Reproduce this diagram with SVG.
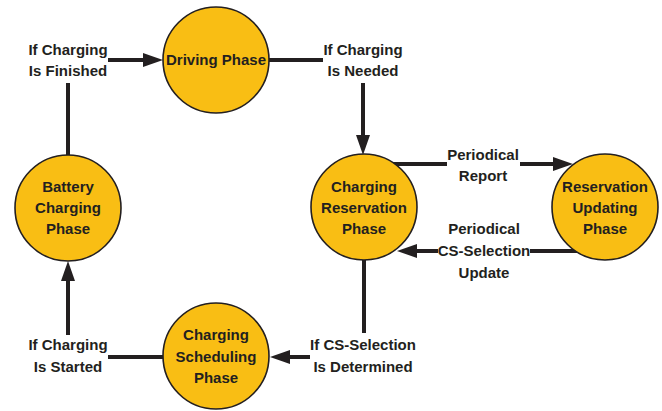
<svg xmlns="http://www.w3.org/2000/svg" width="662" height="411" viewBox="0 0 662 411">
<style>
.node circle{fill:#F9BE14;stroke:#231F20;stroke-width:1.6}
text{font-family:"Liberation Sans",Arial,sans-serif;font-weight:bold;font-size:15px;fill:#231F20;text-anchor:middle}
.conn path.l{fill:none;stroke:#231F20;stroke-width:4}
</style>
<defs>
<marker id="arr" markerUnits="userSpaceOnUse" markerWidth="20" markerHeight="14" refX="2" refY="7" orient="auto">
<path d="M0,0 L20,7 L0,14 z" fill="#231F20"/>
</marker>
</defs>
<rect width="662" height="411" fill="#fff"/>
<g id="connectors" class="conn">
<path class="l" d="M68,155 V83"/>
<path class="l" d="M108,60 H145" marker-end="url(#arr)"/>
<path class="l" d="M269,60 H323"/>
<path class="l" d="M363,83 V137" marker-end="url(#arr)"/>
<path class="l" d="M393,164 H447"/>
<path class="l" d="M520,164 H555" marker-end="url(#arr)"/>
<path class="l" d="M577,251 H530"/>
<path class="l" d="M438,251 H415" marker-end="url(#arr)"/>
<path class="l" d="M364,260 V333"/>
<path class="l" d="M310,357 H288" marker-end="url(#arr)"/>
<path class="l" d="M163,357 H108"/>
<path class="l" d="M68,335 V279" marker-end="url(#arr)"/>
</g>
<g id="labels">
<text x="68" y="55">If Charging</text>
<text x="68" y="76">Is Finished</text>
<text x="363" y="55">If Charging</text>
<text x="363" y="76">Is Needed</text>
<text x="483" y="160">Periodical</text>
<text x="483" y="181">Report</text>
<text x="484" y="234">Periodical</text>
<text x="484" y="256">CS-Selection</text>
<text x="484" y="278">Update</text>
<text x="363" y="350">If CS-Selection</text>
<text x="363" y="372">Is Determined</text>
<text x="68" y="350">If Charging</text>
<text x="68" y="372">Is Started</text>
</g>
<g id="driving" class="node">
<circle cx="216" cy="60" r="53"/>
<text x="216" y="65">Driving Phase</text>
</g>
<g id="reservation" class="node">
<circle cx="364" cy="207" r="53"/>
<text x="364" y="192">Charging</text>
<text x="364" y="213">Reservation</text>
<text x="364" y="234">Phase</text>
</g>
<g id="updating" class="node">
<circle cx="605" cy="207" r="53"/>
<text x="605" y="192">Reservation</text>
<text x="605" y="213">Updating</text>
<text x="605" y="234">Phase</text>
</g>
<g id="battery" class="node">
<circle cx="68" cy="208" r="53"/>
<text x="68" y="192">Battery</text>
<text x="68" y="213">Charging</text>
<text x="68" y="234">Phase</text>
</g>
<g id="scheduling" class="node">
<circle cx="216" cy="356" r="53"/>
<text x="216" y="340">Charging</text>
<text x="216" y="362">Scheduling</text>
<text x="216" y="383">Phase</text>
</g>
</svg>
